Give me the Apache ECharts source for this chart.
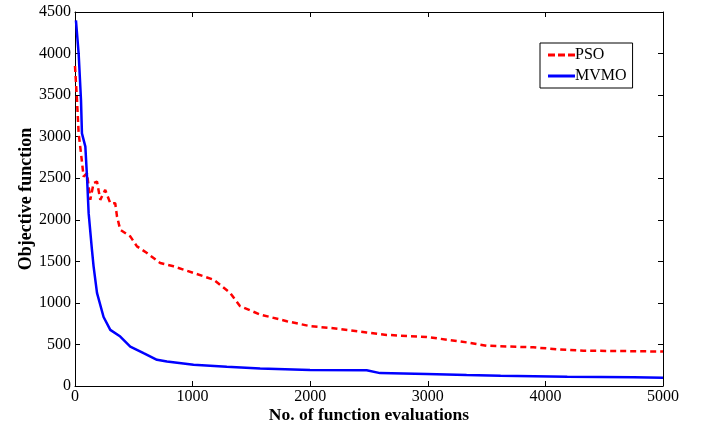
<!DOCTYPE html>
<html>
<head>
<meta charset="utf-8">
<script src="https://cdn.jsdelivr.net/npm/echarts@6/dist/echarts.min.js"></script>
<style>
  html, body {margin: 0; padding: 0; background: #fff;}
  #main {width: 709px; height: 427px;}
</style>
</head>
<body>
<div id="main"></div>
<script>
// values
const psoX = [0, 17, 31, 51, 73, 102, 130, 158, 187, 215, 257, 300, 342, 357, 385, 470, 527, 612, 725, 838, 1008, 1178, 1319, 1404, 1574, 1801, 1999, 2197, 2480, 2650, 2990, 3330, 3500, 3896, 4125, 4323, 5000]
const psoY = [3850, 3440, 3040, 2800, 2520, 2560, 2240, 2440, 2460, 2240, 2360, 2200, 2200, 2040, 1880, 1800, 1680, 1600, 1480, 1440, 1360, 1280, 1120, 960, 860, 780, 720, 695, 645, 615, 590, 525, 485, 465, 440, 425, 415]
const mvmoX = [8, 31, 51, 59, 88, 102, 116, 144, 158, 187, 243, 300, 385, 470, 583, 697, 782, 1008, 1291, 1574, 1999, 2480, 2594, 2990, 3330, 3619, 4186, 4752, 5000]
const mvmoY = [4400, 4000, 3440, 3040, 2880, 2520, 2080, 1640, 1440, 1120, 830, 675, 595, 475, 395, 315, 295, 255, 232, 212, 193, 190, 155, 145, 132, 122, 112, 105, 100]

const pair = (xs, ys) => xs.map((x, i) => [x, ys[i]])

const font = 'Liberation Serif'
const axisBase = {
  type: 'value',
  axisLine: {show: true, onZero: false, lineStyle: {color: '#000', width: 1}},
  axisTick: {show: true, inside: true, length: 5, lineStyle: {color: '#000'}},
  splitLine: {show: false},
}
const labelStyle = {fontFamily: font, fontSize: 16, color: '#000', formatter: v => String(v)}
const nameStyle = {fontFamily: font, fontSize: 18, fontWeight: 'bold', color: '#000'}

// legend icons: dashed and solid line
const dashIcon = 'path://M0,0h7v3h-7z M10,0h7v3h-7z M20,0h7v3h-7z'
const lineIcon = 'path://M0,0h27v3h-27z'

const chart = echarts.init(document.getElementById('main'))
chart.setOption({
  backgroundColor: '#fff',
  animation: false,
  textStyle: {fontFamily: font},
  grid: {left: 75, top: 12, right: 46, bottom: 41, outerBoundsMode: 'none'},
  legend: {
    orient: 'vertical',
    left: 540,
    top: 43,
    padding: [4, 6, 4, 8],
    itemGap: 5,
    itemWidth: 27,
    itemHeight: 3,
    borderColor: '#000',
    borderWidth: 1,
    textStyle: {fontFamily: font, fontSize: 16, color: '#000', padding: [0, 0, 0, -5]},
    data: [
      {name: 'PSO', icon: dashIcon, itemStyle: {color: '#ff0000'}},
      {name: 'MVMO', icon: lineIcon, itemStyle: {color: '#0000ff'}},
    ],
  },
  xAxis: [{
    ...axisBase,
    min: 0, max: 5000, interval: 1000,
    position: 'bottom',
    name: 'No. of function evaluations',
    nameLocation: 'middle',
    nameGap: 20,
    nameMoveOverlap: false,
    nameTextStyle: {...nameStyle, fontSize: 17.5},
    axisLabel: {...labelStyle, margin: 3},
  }, {
    ...axisBase,
    min: 0, max: 5000, interval: 1000,
    position: 'top',
    axisLabel: {show: false},
  }],
  yAxis: [{
    ...axisBase,
    min: 0, max: 4500, interval: 500,
    position: 'left',
    name: 'Objective function',
    nameLocation: 'middle',
    nameGap: 40,
    nameMoveOverlap: false,
    nameTextStyle: nameStyle,
    axisLabel: {...labelStyle, margin: 4},
  }, {
    ...axisBase,
    min: 0, max: 4500, interval: 500,
    position: 'right',
    axisLabel: {show: false},
  }],
  series: [{
    name: 'PSO',
    type: 'line',
    data: pair(psoX, psoY),
    symbol: 'none',
    lineStyle: {color: '#ff0000', width: 2.5, type: [6, 4]},
    itemStyle: {color: '#ff0000'},
  }, {
    name: 'MVMO',
    type: 'line',
    data: pair(mvmoX, mvmoY),
    symbol: 'none',
    lineStyle: {color: '#0000ff', width: 2.5},
    itemStyle: {color: '#0000ff'},
  }],
})
</script>
</body>
</html>
